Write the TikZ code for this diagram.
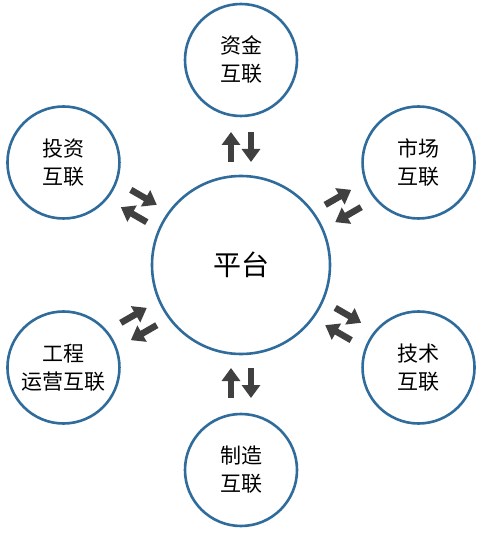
\documentclass[tikz,border=0pt]{standalone}
\usepackage{fontspec}
\usetikzlibrary{arrows.meta, positioning}
\newfontfamily\cjk{Noto Sans CJK SC}
\definecolor{ring}{HTML}{2F6C9C}
\definecolor{arrowgr}{HTML}{404040}
\tikzset{
  hub/.style={circle, draw=ring, fill=white, line width=2.6pt, minimum size=178pt,
              inner sep=0pt, align=center, font=\cjk\fontsize{28}{32}\selectfont, text=black},
  spoke/.style={circle, draw=ring, fill=white, line width=2.6pt, minimum size=112pt,
                inner sep=0pt, align=center, font=\cjk\fontsize{21}{28}\selectfont, text=black},
  arw/.style={-{Triangle[length=13pt, width=18pt]}, line width=6.5pt, draw=arrowgr},
}
\begin{document}
\begin{tikzpicture}[x=1pt, y=1pt]
  \useasboundingbox (-241,-269) rectangle (240,265);
  \node[hub] (p) at (0,0) {平台};
  \node[spoke] (fund) at (90:205) {资金\\互联};
  \node[spoke] (mkt) at (30:205) {市场\\互联};
  \node[spoke] (tech) at (-30:205) {技术\\互联};
  \node[spoke] (mfg) at (-90:205) {制造\\互联};
  \node[spoke] (ops) at (210:205) {工程\\运营互联};
  \node[spoke] (inv) at (150:205) {投资\\互联};
  % paired arrows between hub and each spoke
  \foreach \n/\a in {fund/90, mkt/30, tech/-30, mfg/-90, ops/210, inv/150} {
    \draw[arw, shorten <=103pt, shorten >=72pt]
      ([shift={(\a+90:10)}]p.center) -- ([shift={(\a+90:10)}]\n.center);
    \draw[arw, shorten <=72pt, shorten >=103pt]
      ([shift={(\a-90:10)}]\n.center) -- ([shift={(\a-90:10)}]p.center);
  }
\end{tikzpicture}
\end{document}
